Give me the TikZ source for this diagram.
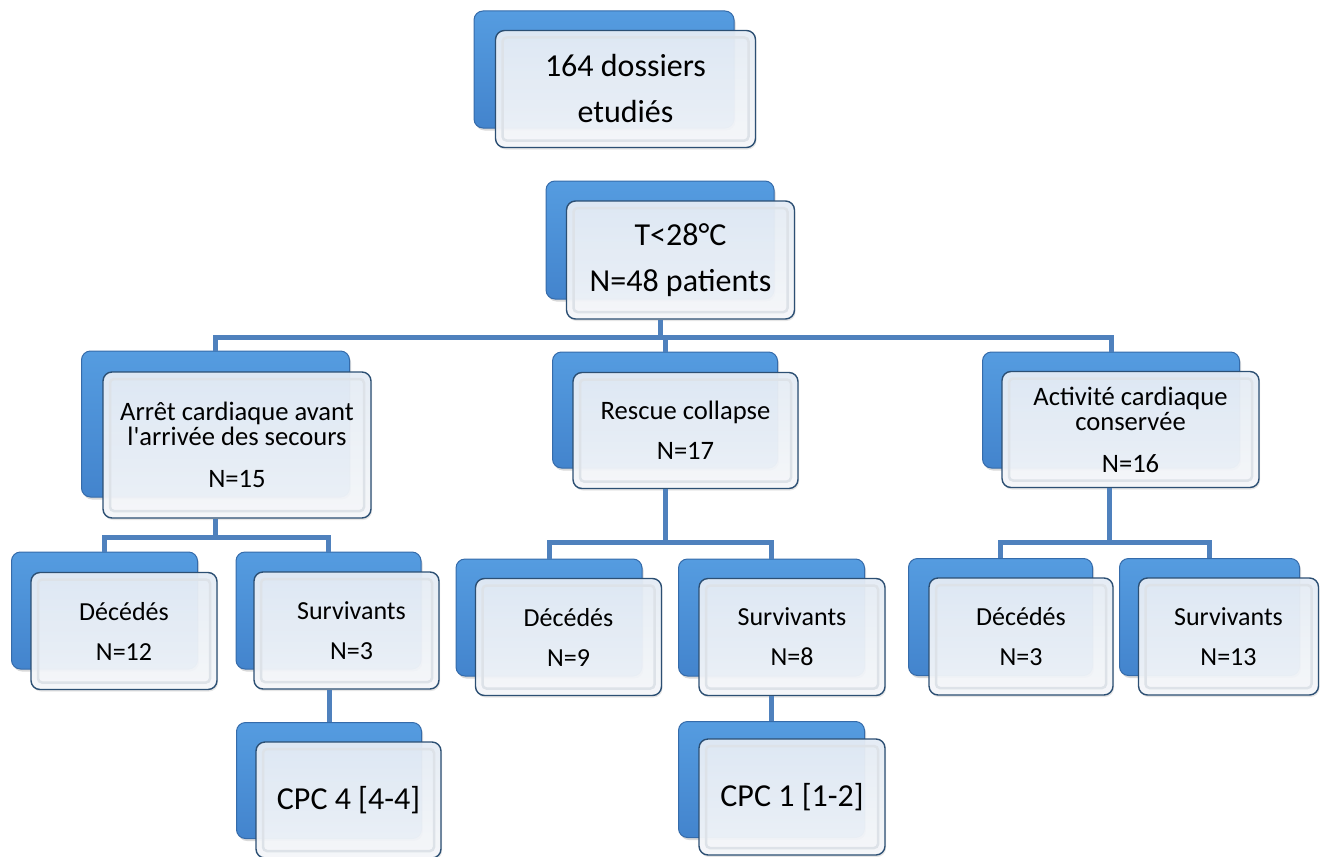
\documentclass[tikz,border=0pt]{standalone}
\usepackage{fontspec}
\setmainfont{Carlito}[Ligatures=TeXOff]
\usetikzlibrary{shadows}
\definecolor{backtop}{HTML}{559CE0}
\definecolor{backbot}{HTML}{4384CD}
\definecolor{backline}{HTML}{356BAA}
\definecolor{frontline}{HTML}{2C4F73}
\definecolor{fronttop}{HTML}{E6EDF6}
\definecolor{frontbot}{HTML}{F6F8FB}
\definecolor{connblue}{HTML}{4F81BD}
\definecolor{bevel}{HTML}{DDE2E8}
\newcommand\fbig{\fontsize{32}{46}\selectfont}
\newcommand\fmid{\fontsize{26}{40}\selectfont}
\newcommand\fsmall{\fontsize{26.6}{25}\selectfont}
\newcommand\pairbox[7]{%
  \node[backbox, minimum width=#4pt, minimum height=#5pt] (#1b) at #2 {};
  \node[frontbox, minimum width=#4pt, minimum height=#5pt, font=#6] (#1) at #3 {#7};}
\begin{document}
\begin{tikzpicture}[x=1pt, y=-1pt,
  backbox/.style={rounded corners=9pt, draw=backline, line width=1pt,
    top color=backtop, bottom color=backbot, inner sep=0pt,
    drop shadow={shadow xshift=1.5pt, shadow yshift=-2.5pt, opacity=0.3}},
  frontbox/.style={rounded corners=9pt, draw=frontline, line width=1.4pt,
    top color=fronttop, bottom color=frontbot, fill opacity=0.94, text opacity=1,
    align=center, inner sep=0pt, text=black,
    drop shadow={shadow xshift=1pt, shadow yshift=-2pt, opacity=0.2},
    path picture={\draw[bevel, line width=2.5pt, rounded corners=4pt]
      ([xshift=7pt,yshift=7pt]path picture bounding box.south west) rectangle
      ([xshift=-7pt,yshift=-7pt]path picture bounding box.north east);}},
  conn/.style={draw=connblue, line width=5pt}]
\useasboundingbox (0,0) rectangle (1329,856);
% level 0
\pairbox{A}{(604,69.5)}{(625.5,89)}{260}{117}{\fbig}{164 dossiers\\etudiés}
% level 1
\pairbox{B}{(660,240)}{(680.5,260)}{228}{118}{\fbig}{T<28°C\\N=48 patients}
% level 2
\pairbox{C1}{(215.5,424)}{(237,445)}{268}{146}{\fsmall}{Arrêt cardiaque avant\\l'arrivée des secours\\[17pt]N=15}
\pairbox{C2}{(665,410)}{(685.5,430.5)}{225}{116}{\fsmall}{Rescue collapse\\[15pt]N=17}
\pairbox{C3}{(1111,410)}{(1130.5,429.5)}{257}{116}{\fsmall}{Activité cardiaque\\conservée\\[17pt]N=16}
% level 3
\pairbox{D1}{(104.5,610.5)}{(124,631)}{186}{117}{\fmid}{Décédés\\N=12}
\pairbox{D2}{(328.5,610.5)}{(346.5,630.5)}{185}{117}{\fmid}{\hspace*{10pt}Survivants\\\hspace*{10pt}N=3}
\pairbox{D3}{(549,617.5)}{(568.5,637)}{186}{117}{\fmid}{Décédés\\N=9}
\pairbox{D4}{(771.5,617.5)}{(792,637)}{186}{117}{\fmid}{Survivants\\N=8}
\pairbox{D5}{(1000.5,617)}{(1021,636.5)}{184}{117}{\fmid}{Décédés\\N=3}
\pairbox{D6}{(1209.5,617)}{(1228.5,636.5)}{180}{117}{\fmid}{Survivants\\N=13}
% level 4
\pairbox{E1}{(329,780.5)}{(348.5,800)}{185}{116}{\fbig}{CPC 4 [4-4]}
\pairbox{E2}{(771.5,779.5)}{(792,797)}{186}{116}{\fbig}{CPC 1 [1-2]}
% connectors
\coordinate (j0) at (660,337);
\coordinate (j1) at (215.5,537);
\coordinate (j2) at (665,542);
\coordinate (j3) at (1109,542);
\draw[conn] (B.south -| Bb.north) -- (j0);
\draw[conn] (C1b.north) |- (j0) -| (C3b.north);
\draw[conn] (j0 -| C2b.north) -- (C2b.north);
\draw[conn] (C1.south -| j1) -- (j1);
\draw[conn] (D1b.north) |- (j1) -| (D2b.north);
\draw[conn] (C2.south -| j2) -- (j2);
\draw[conn] (D3b.north) |- (j2) -| (D4b.north);
\draw[conn] (C3.south -| j3) -- (j3);
\draw[conn] (D5b.north) |- (j3) -| (D6b.north);
\draw[conn] (D2.south -| E1b.north) -- (E1b.north);
\draw[conn] (D4.south -| E2b.north) -- (E2b.north);
\end{tikzpicture}
\end{document}
